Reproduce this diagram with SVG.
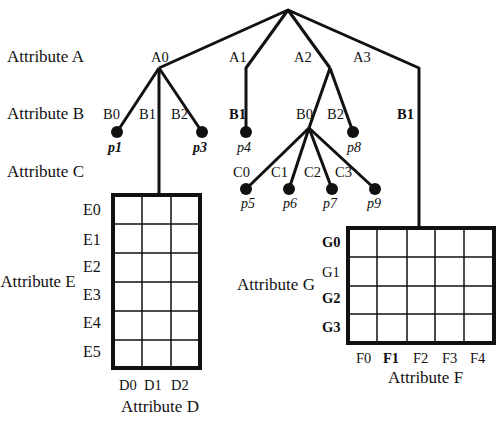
<svg xmlns="http://www.w3.org/2000/svg" width="499" height="421" viewBox="0 0 499 421">
<style>
text{font-family:"Liberation Serif","Times New Roman",serif;fill:#111}
.t{font-size:17px}
.l{font-size:14.5px}
.el{font-size:16px}
.p{font-size:14px;font-style:italic}
.b{font-weight:bold}
.e{stroke:#111;stroke-width:3;fill:none;stroke-linejoin:round}
.dot{fill:#111}
.g{fill:#fff;stroke:#111;stroke-width:4}
.gl{stroke:#111;stroke-width:1.5}
</style>
<rect width="499" height="421" fill="#fff"/>
<g id="axis-labels">
<text class="t" x="7" y="62">Attribute A</text>
<text class="t" x="7" y="119">Attribute B</text>
<text class="t" x="7" y="177">Attribute C</text>
<text class="t" x="0.5" y="287" textLength="75" lengthAdjust="spacingAndGlyphs">Attribute E</text>
<text class="t" x="121" y="412">Attribute D</text>
<text class="t" x="237" y="290">Attribute G</text>
<text class="t" x="388" y="383">Attribute F</text>
</g>
<g id="connectors">
<polyline class="e" points="159,68 288,10 246,68 246,132"/>
<polyline class="e" points="288,10 330,68"/>
<polyline class="e" points="288,10 419,68 419,228"/>
<line class="e" x1="159" y1="68" x2="117" y2="132"/>
<line class="e" x1="159" y1="68" x2="159" y2="195"/>
<line class="e" x1="159" y1="68" x2="202" y2="132"/>
<line class="e" x1="330" y1="68" x2="309" y2="128"/>
<line class="e" x1="330" y1="68" x2="353" y2="132"/>
<line class="e" x1="309" y1="128" x2="246" y2="189"/>
<line class="e" x1="309" y1="128" x2="289" y2="189"/>
<line class="e" x1="309" y1="128" x2="332" y2="189"/>
<line class="e" x1="309" y1="128" x2="375" y2="189"/>
</g>
<g id="edge-labels">
<text class="l" x="151" y="62">A0</text>
<text class="l" x="229" y="62">A1</text>
<text class="l" x="294" y="62">A2</text>
<text class="l" x="353" y="62">A3</text>
<text class="l" x="103" y="119">B0</text>
<text class="l" x="139" y="119">B1</text>
<text class="l" x="171" y="119">B2</text>
<text class="l b" x="229" y="119">B1</text>
<text class="l" x="296" y="119">B0</text>
<text class="l" x="327" y="119">B2</text>
<text class="l b" x="397" y="119">B1</text>
<text class="l" x="233" y="177">C0</text>
<text class="l" x="271" y="177">C1</text>
<text class="l" x="304" y="177">C2</text>
<text class="l" x="335" y="177">C3</text>
</g>
<g id="p1"><circle class="dot" cx="117" cy="132" r="6"/><text class="p b" x="108" y="152">p1</text></g>
<g id="p3"><circle class="dot" cx="202" cy="132" r="6"/><text class="p b" x="193" y="152">p3</text></g>
<g id="p4"><circle class="dot" cx="246" cy="132" r="6"/><text class="p" x="237" y="152">p4</text></g>
<g id="p8"><circle class="dot" cx="353" cy="132" r="6"/><text class="p" x="347" y="152">p8</text></g>
<g id="p5"><circle class="dot" cx="246" cy="189" r="6"/><text class="p" x="241" y="208">p5</text></g>
<g id="p6"><circle class="dot" cx="289" cy="189" r="6"/><text class="p" x="283" y="208">p6</text></g>
<g id="p7"><circle class="dot" cx="332" cy="189" r="6"/><text class="p" x="323" y="208">p7</text></g>
<g id="p9"><circle class="dot" cx="375" cy="189" r="6"/><text class="p" x="367" y="208">p9</text></g>
<g id="grid-DE">
<rect class="g" x="113" y="195" width="87" height="173"/>
<line class="gl" x1="142" y1="195" x2="142" y2="368"/>
<line class="gl" x1="171" y1="195" x2="171" y2="368"/>
<line class="gl" x1="113" y1="224" x2="200" y2="224"/>
<line class="gl" x1="113" y1="253" x2="200" y2="253"/>
<line class="gl" x1="113" y1="282" x2="200" y2="282"/>
<line class="gl" x1="113" y1="311" x2="200" y2="311"/>
<line class="gl" x1="113" y1="340" x2="200" y2="340"/>
<text class="el" x="83" y="215">E0</text>
<text class="el" x="83" y="245">E1</text>
<text class="el" x="83" y="272">E2</text>
<text class="el" x="83" y="300">E3</text>
<text class="el" x="83" y="328">E4</text>
<text class="el" x="83" y="357">E5</text>
<text class="l" x="119" y="390">D0</text>
<text class="l" x="144" y="390">D1</text>
<text class="l" x="171" y="390">D2</text>
</g>
<g id="grid-FG">
<rect class="g" x="348" y="228" width="146" height="115"/>
<line class="gl" x1="377" y1="228" x2="377" y2="343"/>
<line class="gl" x1="407" y1="228" x2="407" y2="343"/>
<line class="gl" x1="435" y1="228" x2="435" y2="343"/>
<line class="gl" x1="464" y1="228" x2="464" y2="343"/>
<line class="gl" x1="348" y1="257" x2="494" y2="257"/>
<line class="gl" x1="348" y1="286" x2="494" y2="286"/>
<line class="gl" x1="348" y1="314" x2="494" y2="314"/>
<text class="l b" x="322" y="247">G0</text>
<text class="l" x="322" y="277">G1</text>
<text class="l b" x="322" y="303">G2</text>
<text class="l b" x="322" y="332">G3</text>
<text class="l" x="356" y="363">F0</text>
<text class="l b" x="383" y="363">F1</text>
<text class="l" x="413" y="363">F2</text>
<text class="l" x="442" y="363">F3</text>
<text class="l" x="470" y="363">F4</text>
</g>
</svg>
